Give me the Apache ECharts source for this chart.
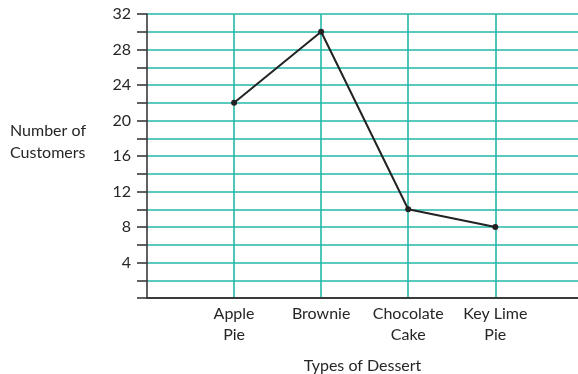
<!DOCTYPE html>
<html>
<head>
<meta charset="utf-8">
<script src="https://cdn.jsdelivr.net/npm/echarts@6/dist/echarts.min.js"></script>
<style>
  html, body { margin: 0; padding: 0; background: #fff; }
  #chart { width: 578px; height: 374px; }
</style>
</head>
<body>
<div id="chart"></div>
<script>
// Dessert survey: customers per dessert type
const categories = ['Apple\nPie', 'Brownie', 'Chocolate\nCake', 'Key Lime\nPie'];
const customers = [22, 30, 10, 8];
const yTicks = [4, 8, 12, 16, 20, 24, 28, 32];

const FONT = 'Lato, "Noto Sans", sans-serif';
const TEAL = '#22b8a7';
const AXIS = '#3a3a3a';
const TEXT = '#262626';

// categories sit at positions 1..4 on a numeric axis
const points = customers.map((v, i) => [i + 1, v]);

const chart = echarts.init(document.getElementById('chart'));
chart.setOption({
  animation: false,
  grid: { left: 147, right: 0, top: 14, bottom: 76, containLabel: false, outerBoundsMode: 'none' },
  graphic: [{
    type: 'text',
    left: 10,
    top: 120,
    style: {
      text: 'Number of\nCustomers',
      font: '16px ' + FONT,
      fill: TEXT,
      lineHeight: 22
    }
  }],
  xAxis: {
    type: 'value',
    min: 0,
    max: 4.95,
    interval: 1,
    name: 'Types of Dessert',
    nameLocation: 'middle',
    nameGap: 60,
    nameTextStyle: { fontFamily: FONT, fontSize: 16, color: TEXT },
    axisLine: { show: true, onZero: false, lineStyle: { color: AXIS, width: 2 } },
    axisTick: { show: false },
    axisLabel: {
      margin: 5,
      fontFamily: FONT,
      fontSize: 16,
      color: TEXT,
      lineHeight: 21,
      verticalAlign: 'top',
      formatter: v => (Number.isInteger(v) && v >= 1 && v <= categories.length) ? categories[v - 1] : ''
    },
    splitLine: {
      show: true,
      showMinLine: false,
      showMaxLine: false,
      lineStyle: { color: TEAL, width: 1.6 }
    }
  },
  yAxis: {
    type: 'value',
    min: 0,
    max: 32,
    interval: 2,
    axisLine: { show: true, onZero: false, lineStyle: { color: AXIS, width: 1.6 } },
    axisTick: {
      show: true,
      length: 10,
      lineStyle: { color: AXIS, width: 1.6 },
      interval: (i, v) => Number(v) % 4 === 0
    },
    axisLabel: {
      margin: 16,
      fontFamily: FONT,
      fontSize: 16,
      color: TEXT,
      formatter: v => yTicks.includes(v) ? String(v) : ''
    },
    splitLine: {
      show: true,
      showMinLine: false,
      lineStyle: { color: TEAL, width: 1.6 }
    }
  },
  series: [{
    type: 'line',
    data: points,
    symbol: 'circle',
    symbolSize: 6,
    lineStyle: { color: '#222', width: 2 },
    itemStyle: { color: '#222' },
    z: 5
  }]
});
</script>
</body>
</html>
